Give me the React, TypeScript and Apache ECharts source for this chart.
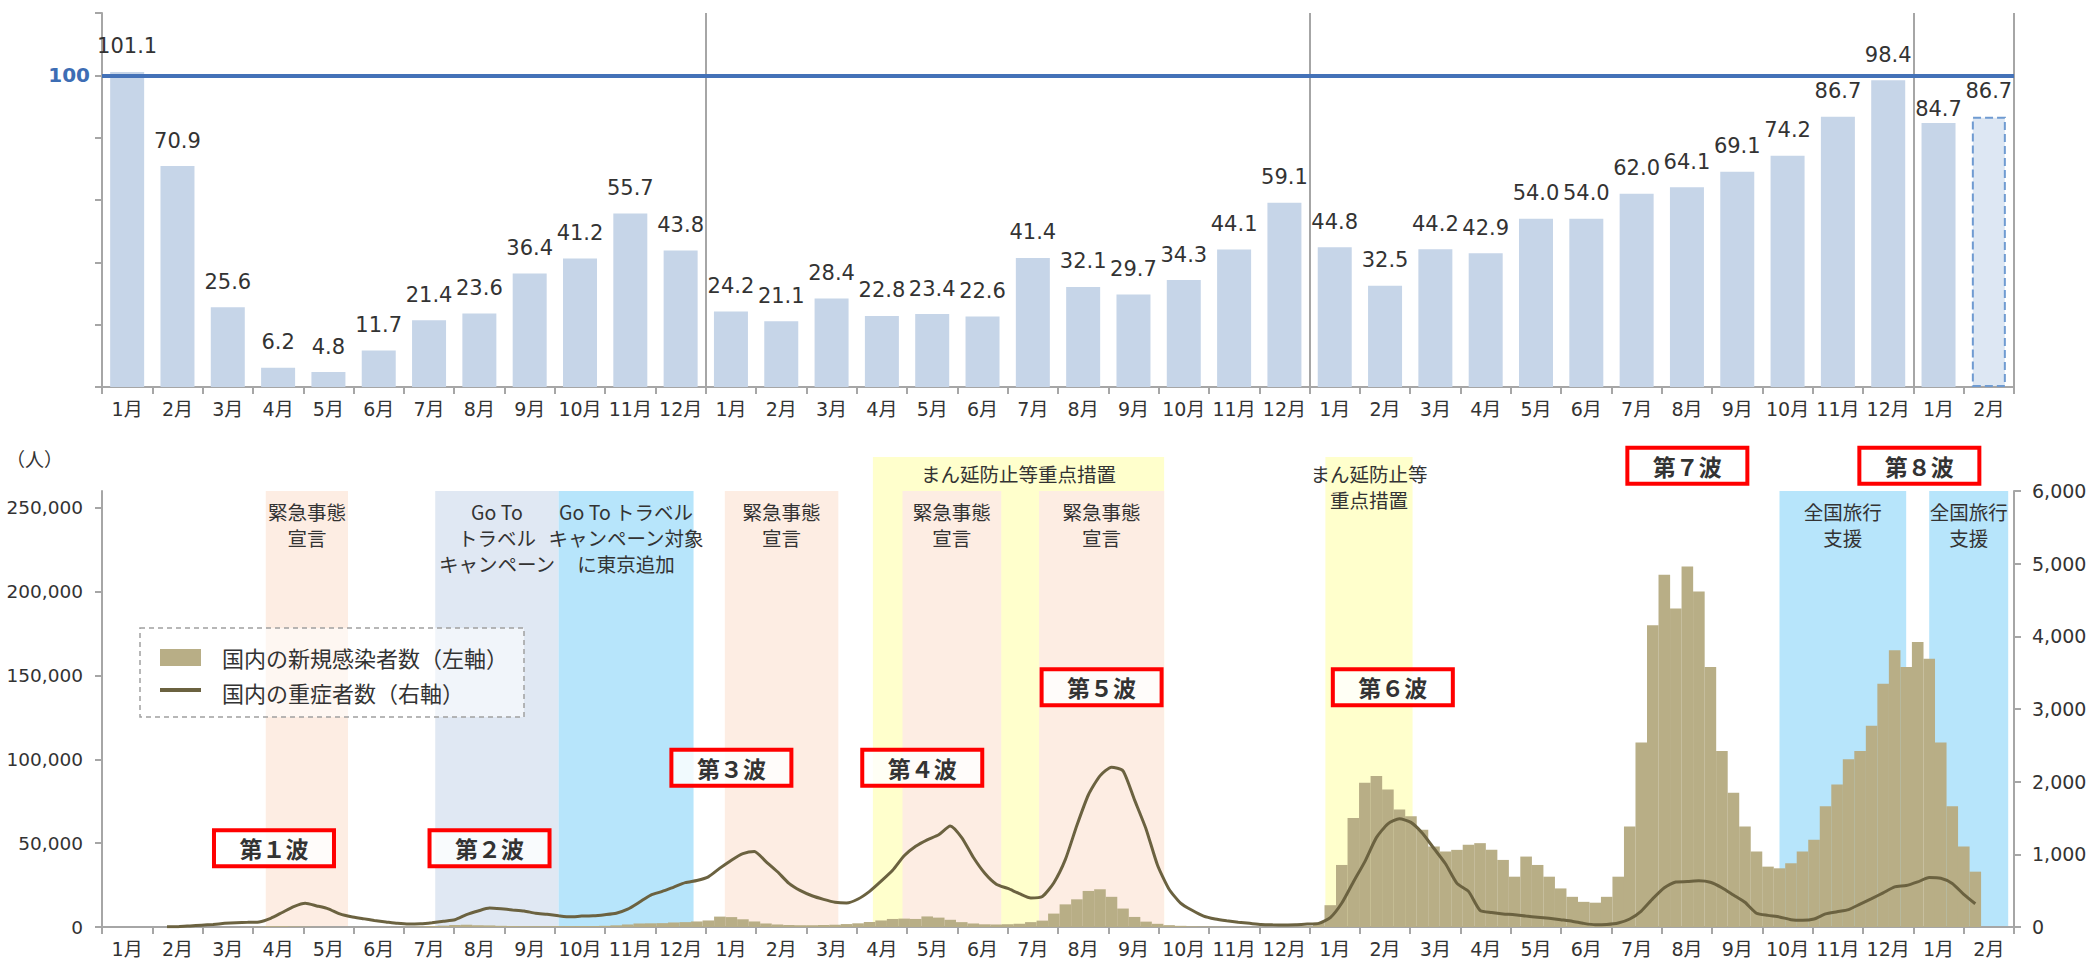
import React, { useEffect, useRef } from 'react';
import * as echarts from 'echarts';

// ---------- data ----------
const monthLabels = [
  '1月','2月','3月','4月','5月','6月','7月','8月','9月','10月','11月','12月',
  '1月','2月','3月','4月','5月','6月','7月','8月','9月','10月','11月','12月',
  '1月','2月','3月','4月','5月','6月','7月','8月','9月','10月','11月','12月',
  '1月','2月',
];

// top panel: monthly index (last value = preliminary)
const activityIndex = [
  101.1, 70.9, 25.6, 6.2, 4.8, 11.7, 21.4, 23.6, 36.4, 41.2, 55.7, 43.8,
  24.2, 21.1, 28.4, 22.8, 23.4, 22.6, 41.4, 32.1, 29.7, 34.3, 44.1, 59.1,
  44.8, 32.5, 44.2, 42.9, 54.0, 54.0, 62.0, 64.1, 69.1, 74.2, 86.7, 98.4,
  84.7, 86.7,
];

// bottom panel: weekly values, first week centred on this date, one entry per week
const firstWeek = '2020-02-06';

// 国内の新規感染者数 (weekly level, persons/day)
const newCases = [
  // 2020
  3, 5, 10, 15,
  35, 45, 40, 110,
  250, 530, 520, 360, 220,
  90, 45, 25, 35,
  40, 45, 55, 100,
  200, 350, 600, 800, 1200,
  1350, 1050, 950, 700,
  550, 520, 500, 470,
  520, 560, 580, 600, 700,
  1000, 1500, 2100, 2200,
  2300, 2700, 2900, 3300, 3900,
  // 2021
  6200, 5900, 4600, 3300,
  2100, 1500, 1200, 1050,
  1050, 1200, 1350, 1750,
  2200, 3000, 3900, 4800, 5000,
  4800, 6300, 5600, 4300,
  2900, 2100, 1600, 1500,
  1650, 1900, 2900, 3800, 8000,
  13500, 16500, 21500, 22500,
  18000, 11000, 6000, 3200, 1900,
  1100, 700, 400, 280,
  220, 170, 130, 120,
  120, 140, 170, 230, 420,
  // 2022
  2500, 13000, 37000, 65000,
  86000, 90000, 82000, 70000,
  66000, 58000, 48000, 45000, 46000,
  49000, 50000, 46000, 40000,
  30000, 42000, 37000, 30000,
  23000, 18000, 15000, 14500, 18000,
  30000, 60000, 110000, 180000,
  210000, 190000, 215000, 200000,
  155000, 105000, 80000, 60000, 45000,
  36000, 35000, 38000, 45000,
  52000, 72000, 85000, 100000,
  105000, 120000, 145000, 165000, 155000,
  // 2023
  170000, 160000, 110000, 72000,
  48000, 33000,
];

// 国内の重症者数 (persons)
const severeCases = [
  // 2020
  2, 5, 15, 25,
  35, 50, 60, 65,
  70, 120, 200, 280, 326,
  290, 250, 180, 140,
  115, 90, 70, 50,
  40, 45, 60, 80, 100,
  170, 220, 260, 250,
  235, 220, 190, 175,
  155, 140, 150, 155, 170,
  190, 245, 340, 440,
  490, 550, 610, 640, 690,
  // 2021
  810, 920, 1010, 1040,
  900, 760, 600, 500,
  430, 380, 340, 330,
  385, 490, 630, 780, 980,
  1110, 1200, 1270, 1390,
  1230, 960, 740, 590,
  530, 460, 400, 420, 610,
  930, 1400, 1820, 2080,
  2200, 2150, 1750, 1350, 850,
  520, 330, 230, 150,
  110, 85, 65, 50,
  35, 30, 28, 30, 40,
  // 2022
  50, 130, 330, 620,
  900, 1230, 1420, 1490,
  1440, 1290, 1080, 870, 600,
  490, 230, 200, 180,
  170, 150, 135, 120,
  100, 80, 50, 30, 35,
  55, 110, 220, 390,
  540, 620, 625, 635,
  615, 540, 440, 340, 190,
  160, 138, 100, 92,
  110, 180, 210, 240,
  315, 390, 470, 552, 570,
  // 2023
  620, 681, 670, 600,
  450, 320,
];

// shaded policy periods
const regionStarts = ['2021-04-10', '2020-04-06', '2020-07-18', '2020-10-01', '2021-01-10', '2021-04-28', '2021-07-20', '2022-01-10', '2022-10-13', '2023-01-12'];
const regionEnds = ['2021-10-04', '2020-05-26', '2020-10-01', '2020-12-22', '2021-03-20', '2021-06-27', '2021-10-04', '2022-03-04', '2022-12-29', '2023-03-01'];
const regionKinds = ['yellow', 'peach', 'gray', 'sky', 'peach', 'peach', 'peach', 'yellow', 'sky', 'sky'];
const regionLabels = [
  'まん延防止等重点措置',
  '緊急事態\n宣言',
  'Go To\nトラベル\nキャンペーン',
  'Go To トラベル\nキャンペーン対象\nに東京追加',
  '緊急事態\n宣言',
  '緊急事態\n宣言',
  '緊急事態\n宣言',
  'まん延防止等\n重点措置',
  '全国旅行\n支援',
  '全国旅行\n支援',
];

// wave annotations (date, left-axis level)
const waveNames = ['第１波', '第２波', '第３波', '第４波', '第５波', '第６波', '第７波', '第８波'];
const waveDates = ['2020-04-11', '2020-08-20', '2021-01-14', '2021-05-10', '2021-08-27', '2022-02-20', '2022-08-18', '2023-01-06'];
const waveLevels = [47000, 47000, 95000, 95000, 143000, 143000, 275000, 275000];

// ---------- helpers & styles ----------
const DAY = 86400000;
const toTs = (s: string) => {
  const [y, m, d] = s.split('-').map(Number);
  return Date.UTC(y, m - 1, d);
};
const FONT = "'DejaVu Sans', 'Noto Sans CJK JP', sans-serif";
const JP = "'Noto Sans CJK JP', sans-serif";
const TXT = '#333333';
const AXIS = '#A6A6A6';
const regionColor: Record<string, string> = {
  yellow: '#FFFFCC',
  peach: '#FDEDE3',
  gray: '#E0E8F3',
  sky: '#B7E5FB',
};

export default function App() {
  const ref = useRef<HTMLDivElement>(null);

  useEffect(() => {
    if (!ref.current) return;
    const chart = echarts.init(ref.current, undefined, { renderer: 'svg' });

    const weekTs = newCases.map((_, i) => toTs(firstWeek) + i * 7 * DAY);
    const lastIdx = activityIndex.length - 1;

    const topBars = activityIndex.map((v, i) =>
      i === lastIdx
        ? {
            value: v,
            itemStyle: { color: '#DDE7F3', borderColor: '#6F9BD1', borderWidth: 2, borderType: 'dashed' },
          }
        : i === 36
        ? { value: v, label: { distance: 4 } }
        : v
    );

    const regionData = regionStarts.map((s, i) => [toTs(s), toTs(regionEnds[i]), 0, i]);
    const waveData = waveDates.map((d, i) => [toTs(d), waveLevels[i], i]);

    const catAxisCommon = {
      type: 'category',
      data: monthLabels,
      boundaryGap: true,
      axisLine: { show: true, onZero: false, lineStyle: { color: AXIS, width: 2 } },
      axisTick: { show: true, interval: 0, length: 7, lineStyle: { color: AXIS, width: 2 } },
      axisLabel: { interval: 0, color: TXT, fontSize: 19, margin: 12, fontFamily: FONT },
    };

    const option: any = {
      animation: false,
      backgroundColor: '#ffffff',
      textStyle: { fontFamily: FONT },
      grid: [
        { left: 102, right: 79, top: 13, height: 374, outerBoundsMode: 'none', containLabel: false },
        { left: 102, right: 79, top: 491, height: 436, outerBoundsMode: 'none', containLabel: false },
      ],
      xAxis: [
        {
          ...catAxisCommon,
          gridIndex: 0,
          splitLine: {
            show: true,
            interval: (i: number) => i === 12 || i === 24 || i === 36,
            lineStyle: { color: AXIS, width: 2 },
          },
        },
        { ...catAxisCommon, gridIndex: 1, position: 'bottom', splitLine: { show: false } },
        {
          type: 'time',
          gridIndex: 1,
          min: toTs('2020-01-01'),
          max: toTs('2023-03-01'),
          show: false,
          position: 'top',
        },
      ],
      yAxis: [
        {
          type: 'value',
          gridIndex: 0,
          min: 0,
          max: 120,
          interval: 20,
          axisLine: { show: true, lineStyle: { color: AXIS, width: 2 } },
          axisTick: { show: true, length: 7, lineStyle: { color: AXIS, width: 2 } },
          axisLabel: { show: false },
          splitLine: { show: false },
        },
        {
          type: 'value',
          gridIndex: 1,
          position: 'left',
          min: 0,
          max: 260000,
          interval: 50000,
          axisLine: { show: true, lineStyle: { color: AXIS, width: 2 } },
          axisTick: { show: true, length: 7, lineStyle: { color: AXIS, width: 2 } },
          axisLabel: {
            color: TXT,
            fontSize: 18.5,
            margin: 19,
            showMaxLabel: false,
            formatter: (v: number) => (v > 250000 ? '' : v.toLocaleString('en-US')),
          },
          splitLine: { show: false },
        },
        {
          type: 'value',
          gridIndex: 1,
          position: 'right',
          min: 0,
          max: 6000,
          interval: 1000,
          axisLine: { show: true, lineStyle: { color: AXIS, width: 2 } },
          axisTick: { show: true, length: 7, lineStyle: { color: AXIS, width: 2 } },
          axisLabel: {
            color: TXT,
            fontSize: 19,
            margin: 18,
            formatter: (v: number) => v.toLocaleString('en-US'),
          },
          splitLine: { show: false },
        },
      ],
      series: [
        {
          name: 'index',
          type: 'bar',
          xAxisIndex: 0,
          yAxisIndex: 0,
          data: topBars,
          barWidth: 34,
          itemStyle: { color: '#C6D5E8' },
          label: {
            show: true,
            position: 'top',
            distance: 15,
            fontSize: 21,
            color: TXT,
            fontFamily: FONT,
            formatter: (p: any) => Number(p.value).toFixed(1),
          },
          markLine: {
            silent: true,
            symbol: ['none', 'none'],
            data: [{ yAxis: 100 }],
            lineStyle: { color: '#4472B8', width: 4, type: 'solid' },
            label: {
              show: true,
              position: 'start',
              formatter: '100',
              color: '#3D6DB4',
              fontWeight: 'bold',
              fontSize: 20,
              fontFamily: FONT,
              distance: 12,
            },
          },
          z: 2,
        },
        {
          name: 'regions',
          type: 'custom',
          xAxisIndex: 2,
          yAxisIndex: 1,
          data: regionData,
          encode: { x: [0, 1], y: 2 },
          clip: false,
          silent: true,
          z: 0,
          renderItem: (params: any, api: any) => {
            const i = api.value(3);
            const x1 = api.coord([api.value(0), 0])[0];
            const x2 = api.coord([api.value(1), 0])[0];
            const cs = params.coordSys;
            const kind = regionKinds[i];
            const tall = kind === 'yellow';
            const top = tall ? cs.y - 34 : cs.y;
            const bottom = cs.y + cs.height;
            return {
              type: 'group',
              children: [
                {
                  type: 'rect',
                  shape: { x: x1, y: top, width: x2 - x1, height: bottom - top },
                  style: { fill: regionColor[kind] },
                },
                {
                  type: 'text',
                  style: {
                    text: regionLabels[i],
                    x: (x1 + x2) / 2,
                    y: tall ? top + 3 : top + 7,
                    align: 'center',
                    verticalAlign: 'top',
                    fontSize: 19.5,
                    lineHeight: 26,
                    fontFamily: JP,
                    fill: TXT,
                  },
                },
              ],
            };
          },
        },
        {
          name: '国内の新規感染者数（左軸）',
          type: 'bar',
          xAxisIndex: 2,
          yAxisIndex: 1,
          data: weekTs.map((t, i) => [t, newCases[i]]),
          barWidth: 11.6,
          itemStyle: { color: '#B8AE86' },
          z: 2,
        },
        {
          name: '国内の重症者数（右軸）',
          type: 'line',
          xAxisIndex: 2,
          yAxisIndex: 2,
          data: weekTs.map((t, i) => [t, severeCases[i]]),
          showSymbol: false,
          symbol: 'none',
          smooth: 0.2,
          lineStyle: { color: '#6B6240', width: 3 },
          z: 3,
        },
        {
          name: 'waves',
          type: 'custom',
          xAxisIndex: 2,
          yAxisIndex: 1,
          data: waveData,
          encode: { x: 0, y: 1 },
          clip: false,
          silent: true,
          z: 5,
          renderItem: (params: any, api: any) => {
            const p = api.coord([api.value(0), api.value(1)]);
            const i = api.value(2);
            return {
              type: 'group',
              children: [
                {
                  type: 'rect',
                  shape: { x: p[0] - 60, y: p[1] - 18, width: 120, height: 36 },
                  style: { fill: 'rgba(255,255,255,0.8)', stroke: '#FF0000', lineWidth: 4 },
                },
                {
                  type: 'text',
                  style: {
                    text: waveNames[i],
                    x: p[0],
                    y: p[1],
                    align: 'center',
                    verticalAlign: 'middle',
                    fontSize: 23,
                    fontWeight: 'bold',
                    fontFamily: JP,
                    fill: TXT,
                  },
                },
              ],
            };
          },
        },
      ],
      graphic: [
        {
          type: 'rect',
          shape: { x: 140, y: 628, width: 384, height: 89 },
          style: { fill: 'rgba(255,255,255,0.55)', stroke: '#A0A0A0', lineWidth: 1.5, lineDash: [5, 4] },
          z: 10,
        },
        {
          type: 'rect',
          shape: { x: 160, y: 649, width: 41, height: 17 },
          style: { fill: '#B8AE86' },
          z: 11,
        },
        {
          type: 'line',
          shape: { x1: 160, y1: 690, x2: 201, y2: 690 },
          style: { stroke: '#6B6240', lineWidth: 4 },
          z: 11,
        },
        {
          type: 'text',
          x: 222,
          y: 657,
          style: { text: '国内の新規感染者数（左軸）', fontSize: 22, fontFamily: JP, fill: TXT, verticalAlign: 'middle' },
          z: 11,
        },
        {
          type: 'text',
          x: 222,
          y: 692,
          style: { text: '国内の重症者数（右軸）', fontSize: 22, fontFamily: JP, fill: TXT, verticalAlign: 'middle' },
          z: 11,
        },
        {
          type: 'text',
          x: 6,
          y: 458,
          style: { text: '（人）', fontSize: 19, fontFamily: JP, fill: TXT, verticalAlign: 'middle' },
          z: 11,
        },
      ],
    };

    chart.setOption(option);
    return () => chart.dispose();
  }, []);

  return (
    <div
      ref={ref}
      style={{ position: 'fixed', left: 0, top: 0, width: 2093, height: 963, background: '#ffffff' }}
    />
  );
}
